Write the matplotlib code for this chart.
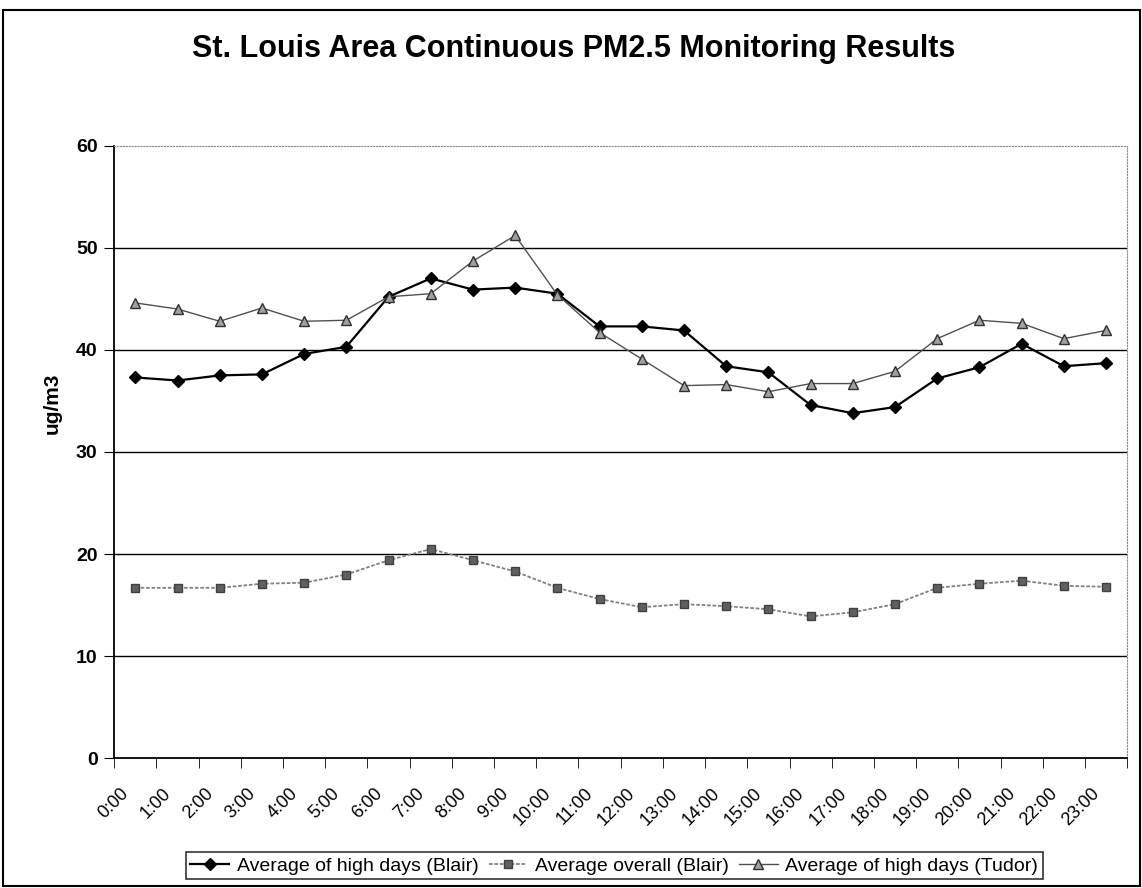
import numpy as np
import matplotlib
matplotlib.use("Agg")
import matplotlib.pyplot as plt
import matplotlib.transforms as mtransforms
from matplotlib.patches import Rectangle

plt.rcParams['font.family'] = ['Liberation Sans', 'DejaVu Sans']

hours = ["%d:00" % h for h in range(24)]

# values (ug/m3)
blair_high = [37.3, 37.0, 37.5, 37.6, 39.6, 40.3, 45.2, 47.0, 45.9, 46.1, 45.5, 42.3,
              42.3, 41.9, 38.4, 37.8, 34.6, 33.8, 34.4, 37.2, 38.3, 40.6, 38.4, 38.7]
blair_overall = [16.7, 16.7, 16.7, 17.1, 17.2, 18.0, 19.4, 20.5, 19.4, 18.3, 16.7, 15.6,
                 14.8, 15.1, 14.9, 14.6, 13.9, 14.3, 15.1, 16.7, 17.1, 17.4, 16.9, 16.8]
tudor_high = [44.6, 44.0, 42.8, 44.1, 42.8, 42.9, 45.2, 45.5, 48.7, 51.2, 45.4, 41.7,
              39.1, 36.5, 36.6, 35.9, 36.7, 36.7, 37.9, 41.1, 42.9, 42.6, 41.1, 41.9]

fig = plt.figure(figsize=(11.42, 8.88), dpi=100)
ax = fig.add_axes([0.1, 0.146, 0.887, 0.69])

x = np.arange(len(hours))
ax.plot(x, blair_high, color='black', lw=1.6, marker='D', ms=6,
        label='Average of high days (Blair)')
ax.plot(x, blair_overall, color='#808080', lw=1.3, ls=(0, (2, 1)), marker='s', ms=6,
        mfc='#606060', mec='#404040', label='Average overall (Blair)')
ax.plot(x, tudor_high, color='#505050', lw=1.0, marker='^', ms=7,
        mfc='#a0a0a0', mec='#303030', label='Average of high days (Tudor)')

ax.set_xlim(-0.5, len(hours) - 0.5)
ax.set_ylim(0, 60)
ax.set_yticks(range(0, 61, 10))
ax.set_yticklabels([str(v) for v in range(0, 61, 10)], fontsize=14, fontweight='bold')
ax.set_xticks(x)
ax.set_xticklabels(hours, rotation=45, ha='right', rotation_mode='anchor', fontsize=13)
ax.tick_params(axis='x', length=0, pad=19)
shift = mtransforms.ScaledTranslation(-15 / 100, 0, fig.dpi_scale_trans)
for lbl in ax.get_xticklabels():
    lbl.set_transform(lbl.get_transform() + shift)
ax.set_xticks(np.arange(-0.5, len(hours), 1), minor=True)
ax.tick_params(axis='x', which='minor', length=7, direction='out', color='black')
ax.tick_params(axis='y', length=7, direction='out', color='black', pad=5)

for v in range(10, 60, 10):
    ax.axhline(v, color='black', lw=1.0, zorder=0)

ax.spines['top'].set_linestyle(':')
ax.spines['top'].set_color('#888888')
ax.spines['right'].set_linestyle(':')
ax.spines['right'].set_color('#888888')
ax.spines['left'].set_linewidth(1.3)
ax.spines['bottom'].set_linewidth(1.3)

ax.set_ylabel('ug/m3', fontsize=15, fontweight='bold')
ax.yaxis.set_label_coords(-0.052, 0.58)

fig.text(0.502, 0.945, 'St. Louis Area Continuous PM2.5 Monitoring Results',
         ha='center', va='center', fontsize=22, fontweight='bold')

leg = fig.legend(loc='center', bbox_to_anchor=(0.538, 0.025), ncol=3, fontsize=14,
                 frameon=True, fancybox=False, edgecolor='black', handlelength=2.0,
                 columnspacing=0.5, handletextpad=0.4, borderpad=0.25)
leg.get_frame().set_linewidth(1.2)

fig.patches.append(Rectangle((0.003, 0.002), 0.995, 0.987, transform=fig.transFigure,
                             fill=False, edgecolor='black', lw=1.5))

fig.savefig('out.png', dpi=100)
